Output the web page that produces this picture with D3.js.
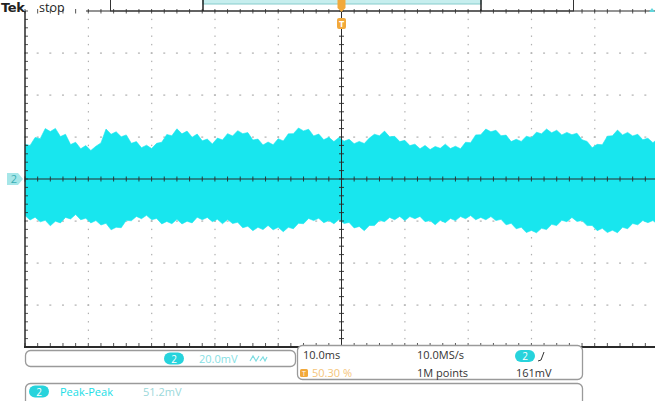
<!DOCTYPE html>
<html><head><meta charset="utf-8">
<script src="https://cdn.jsdelivr.net/npm/d3@7"></script>
<style>body{margin:0;background:#fff}svg{display:block}text{font-family:"Open Sans","DejaVu Sans",sans-serif}</style>
</head><body><svg id="c" width="655" height="401"></svg>
<script>
// Channel 2 envelope (mV), samples every 0.8 ms starting at -50 ms
const startMs = -50, stepMs = 0.8;
const upperMv = [16.5,16.0,19.8,19.2,24.0,22.6,24.1,20.2,21.3,16.4,17.5,14.4,15.9,13.6,15.6,17.2,23.8,21.3,22.5,20.1,21.0,17.0,17.8,14.9,16.1,14.5,17.0,17.5,21.2,20.6,23.9,21.5,22.8,19.9,21.4,18.2,19.0,16.7,19.5,18.6,21.6,20.5,23.0,21.6,22.1,18.6,19.0,16.2,17.6,16.3,19.2,18.1,21.5,21.6,24.3,22.9,23.7,20.5,21.4,18.7,19.9,17.8,19.8,18.0,18.9,16.8,17.9,16.9,19.5,21.3,20.6,22.8,20.1,20.3,17.8,18.4,15.9,16.6,14.4,16.0,14.0,15.5,14.6,16.6,14.5,15.6,14.4,17.5,17.3,21.0,21.1,23.8,22.5,23.2,20.6,20.9,17.8,18.9,17.9,20.4,19.7,22.3,21.5,23.8,22.0,23.2,21.0,22.2,21.1,21.8,18.7,17.9,14.9,16.5,16.3,20.4,20.6,23.3,21.0,22.2,20.5,21.3,18.7,19.4,17.3,19.3,18.4,18.8];
const lowerMv = [-17.4,-19.5,-18.2,-20.4,-19.7,-22.3,-20.1,-20.9,-18.3,-19.0,-16.9,-19.4,-18.7,-20.9,-19.8,-21.9,-21.1,-24.2,-23.0,-23.2,-19.7,-19.9,-17.8,-18.9,-17.3,-19.4,-18.8,-21.4,-20.2,-21.3,-19.2,-21.4,-20.1,-20.9,-18.2,-19.4,-18.3,-20.3,-19.2,-21.3,-19.3,-21.2,-20.6,-23.2,-22.5,-24.6,-23.0,-24.1,-22.1,-24.2,-23.0,-25.1,-23.0,-23.7,-21.1,-21.3,-18.8,-19.8,-18.7,-20.8,-19.8,-21.3,-19.3,-21.2,-20.7,-23.3,-22.6,-24.6,-22.1,-22.2,-19.7,-20.3,-18.3,-19.4,-17.8,-19.8,-17.9,-18.9,-17.8,-20.3,-19.8,-21.8,-19.7,-20.8,-18.8,-19.8,-17.9,-18.9,-17.4,-19.4,-18.3,-19.4,-17.9,-19.8,-19.2,-21.8,-21.1,-23.7,-23.0,-25.5,-24.5,-25.6,-23.5,-24.1,-21.6,-22.2,-19.7,-20.3,-18.3,-20.2,-19.8,-22.2,-22.1,-24.6,-23.5,-25.5,-24.4,-25.6,-23.0,-23.7,-21.2,-21.8,-19.8,-20.8,-19.8,-21.7,-20.4,-21.2];
const xDivMs = [-50,-40,-30,-20,-10,0,10,20,30,40,50];
const yDivMv = [-80,-60,-40,-20,0,20,40,60,80];
const chScale = "20.0mV", timebase = "10.0ms", sampleRate = "10.0MS/s";
const trigPos = "50.30 %", recLen = "1M points", trigLevel = "161mV";
const measName = "Peak-Peak", measValue = "51.2mV";

const svg = d3.select("#c");
const x = d3.scaleLinear().domain([-50, 50]).range([25, 658]);
const y = d3.scaleLinear().domain([-80, 80]).range([347, 11]);
const minorX = d3.range(-50, 50.01, 2), minorY = d3.range(-80, 80.01, 4);

// grid dots
const g = svg.append("g").attr("fill", "#b0b0b0");
xDivMs.filter(v => v !== 0 && v !== -50 && v !== 50).forEach(v => {
  minorY.forEach(m => g.append("rect").attr("x", x(v) - 0.5).attr("y", y(m) - 0.7).attr("width", 1.2).attr("height", 1.4));
});
yDivMv.filter(v => v !== 0 && v !== -80 && v !== 80).forEach(v => {
  minorX.forEach(m => g.append("rect").attr("x", x(m) - 1).attr("y", y(v) - 0.5).attr("width", 2).attr("height", 1.2));
});

// waveform
svg.append("clipPath").attr("id", "pc").append("rect").attr("x", 25).attr("y", 11).attr("width", 633).attr("height", 336);
const samples = upperMv.map((u, i) => ({t: startMs + i * stepMs, hi: u, lo: lowerMv[i]}));
svg.append("path").datum(samples).attr("clip-path", "url(#pc)")
  .attr("fill", "#18e6ee").attr("stroke", "#18e6ee").attr("stroke-width", 0.6)
  .attr("d", d3.area().x(d => x(d.t)).y0(d => y(d.lo)).y1(d => y(d.hi)));

// axes & borders
const ax = svg.append("g").attr("stroke", "#2a2a2a");
ax.append("line").attr("x1", 25).attr("x2", 25).attr("y1", 11).attr("y2", 348).attr("stroke-width", 1.5);
minorY.forEach(m => ax.append("line").attr("x1", 25).attr("x2", 28).attr("y1", y(m)).attr("y2", y(m)).attr("stroke-width", 0.8));
ax.append("line").attr("x1", 86).attr("x2", 655).attr("y1", 11).attr("y2", 11).attr("stroke-width", 1.2);
minorX.forEach(m => ax.append("line").attr("x1", x(m)).attr("x2", x(m)).attr("y1", 9).attr("y2", 13.5).attr("stroke-width", 0.8));
ax.append("line").attr("x1", 24).attr("x2", 655).attr("y1", 347).attr("y2", 347).attr("stroke-width", 2);
minorX.forEach(m => ax.append("line").attr("x1", x(m)).attr("x2", x(m)).attr("y1", 343).attr("y2", 347).attr("stroke-width", 0.8));
ax.append("line").attr("x1", 25).attr("x2", 655).attr("y1", y(0)).attr("y2", y(0)).attr("stroke-width", 1);
minorX.forEach(m => ax.append("line").attr("x1", x(m)).attr("x2", x(m)).attr("y1", y(0) - 2.5).attr("y2", y(0) + 2.5).attr("stroke-width", 0.9));
ax.append("line").attr("x1", x(0)).attr("x2", x(0)).attr("y1", 11).attr("y2", 347).attr("stroke-width", 1);
minorY.forEach(m => ax.append("line").attr("x1", x(0) - 2.5).attr("x2", x(0) + 2.5).attr("y1", y(m)).attr("y2", y(m)).attr("stroke-width", 0.9));

// top record view box
svg.append("rect").attr("x", 203).attr("y", -1).attr("width", 278).attr("height", 5).attr("fill", "#c6eeee").attr("stroke", "#86cccc").attr("stroke-width", 1);
svg.append("rect").attr("x", 110.5).attr("y", -2).attr("width", 463).attr("height", 13).attr("fill", "none").attr("stroke", "#333").attr("stroke-width", 1);
svg.append("line").attr("x1", 203).attr("x2", 203).attr("y1", 0).attr("y2", 11).attr("stroke", "#222").attr("stroke-width", 1.5);
svg.append("line").attr("x1", 481).attr("x2", 481).attr("y1", 0).attr("y2", 11).attr("stroke", "#222").attr("stroke-width", 1.5);

// trigger markers
const orange = "#f2a93b";
svg.append("path").attr("d", `M${x(0)-4},0 h8 v8 l-4,4 l-4,-4 z`).attr("fill", orange);
svg.append("rect").attr("x", x(0) - 4.5).attr("y", 18).attr("width", 9).attr("height", 11).attr("rx", 2).attr("fill", orange);
svg.append("text").attr("x", x(0)).attr("y", 27).attr("text-anchor", "middle").attr("font-size", 9).attr("fill", "#fff").attr("font-weight", "bold").text("T");
svg.append("path").attr("d", "M649,12 l3,-4 l3,4 z").attr("fill", "#5fd6dc");

// Tek stop
svg.append("text").attr("x", 1).attr("y", 11.5).attr("font-size", 13).attr("font-weight", "bold").attr("fill", "#222").style("font-family", "DejaVu Sans").attr("letter-spacing", -0.3).text("Tek");
svg.append("text").attr("x", 39).attr("y", 12).attr("font-size", 12.5).attr("fill", "#222").text("stop");

// channel marker
svg.append("path").attr("d", "M7,173 h11 l5,6 l-5,6 h-11 z").attr("fill", "#a6e6e8");
svg.append("text").attr("x", 14).attr("y", 183).attr("text-anchor", "middle").attr("font-size", 11).attr("fill", "#3aaeb4").text("2");

// readout boxes
const box = (x0, y0, w, h) => svg.append("rect").attr("x", x0).attr("y", y0).attr("width", w).attr("height", h).attr("rx", 5).attr("fill", "#fff").attr("stroke", "#9a9a9a").attr("stroke-width", 1.3);
const pill = (cx, cy, col, label) => {
  svg.append("rect").attr("x", cx - 10).attr("y", cy - 6).attr("width", 20).attr("height", 12).attr("rx", 6).attr("fill", col);
  svg.append("text").attr("x", cx).attr("y", cy + 4).attr("text-anchor", "middle").attr("font-size", 10).attr("fill", "#fff").text(label);
};
box(25.5, 350.5, 270, 16);
pill(174, 358.5, "#27d3dc", "2");
svg.append("text").attr("x", 199).attr("y", 363).attr("font-size", 11).attr("fill", "#86e0e4").text(chScale);
svg.append("path").attr("d", "M250,361 l3,-5 l3,5 l3,-5 M260,361 l3,-4 l2,4 l2,-4").attr("fill", "none").attr("stroke", "#7fdde2").attr("stroke-width", 1.2);

box(297.5, 345.5, 285, 34);
svg.append("text").attr("x", 303).attr("y", 359).attr("font-size", 11).attr("fill", "#333").text(timebase);
svg.append("text").attr("x", 417).attr("y", 359).attr("font-size", 11).attr("fill", "#333").text(sampleRate);
pill(525, 356, "#27d3dc", "2");
svg.append("path").attr("d", "M538,361 l3,-1 l3,-8").attr("fill", "none").attr("stroke", "#333").attr("stroke-width", 1);
svg.append("rect").attr("x", 300).attr("y", 369).attr("width", 8).attr("height", 8).attr("rx", 1.5).attr("fill", orange);
svg.append("text").attr("x", 304).attr("y", 376).attr("text-anchor", "middle").attr("font-size", 7).attr("fill", "#fff").text("T");
svg.append("text").attr("x", 312).attr("y", 377).attr("font-size", 11).attr("fill", "#f5c57a").text(trigPos);
svg.append("text").attr("x", 417).attr("y", 377).attr("font-size", 11).attr("fill", "#333").text(recLen);
svg.append("text").attr("x", 516).attr("y", 377).attr("font-size", 11).attr("fill", "#333").text(trigLevel);

box(25.5, 383.5, 557, 22);
pill(39, 391.5, "#27d3dc", "2");
svg.append("text").attr("x", 60).attr("y", 396).attr("font-size", 11).attr("fill", "#20dde6").text(measName);
svg.append("text").attr("x", 143).attr("y", 396).attr("font-size", 11).attr("fill", "#9ad8da").text(measValue);
</script></body></html>
